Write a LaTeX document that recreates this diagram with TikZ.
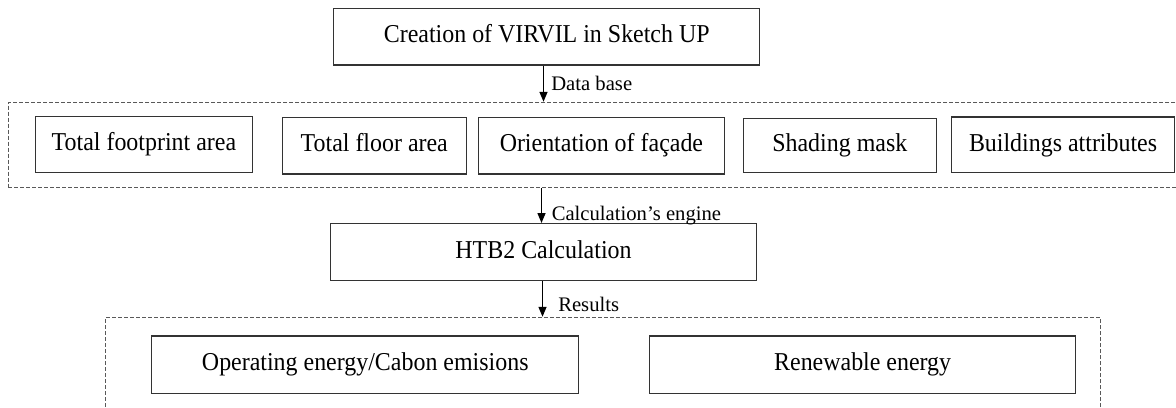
\documentclass[tikz,border=0pt]{standalone}
\usepackage{fontspec}
\setmainfont{Liberation Serif}
\newfontfamily\boxfont[FakeStretch=0.93]{Liberation Serif}
\usetikzlibrary{arrows.meta}
\tikzset{
  box/.style 2 args={draw=black!80, line width=0.8pt, inner sep=0pt,
    minimum width=#1*0.75pt, minimum height=#2*0.75pt,
    text height=13.5pt, text depth=4pt,
    font=\boxfont\fontsize{19.3}{22}\selectfont},
  dbox/.style 2 args={draw=black!65, line width=0.7pt, dash pattern=on 3pt off 1.5pt,
    inner sep=0pt, minimum width=#1*0.75pt, minimum height=#2*0.75pt},
  lbl/.style={inner sep=0pt, font=\fontsize{15.5}{18}\selectfont},
  arr/.style={line width=1.1pt, -{Triangle[length=7.5pt,width=6pt]}, shorten >=0.2pt}
}
\begin{document}
\begin{tikzpicture}[x=0.75pt, y=-0.75pt]
\useasboundingbox (0,0) rectangle (1176,407);
\clip (0,0) rectangle (1176,407);
\fill[white] (0,0) rectangle (1176,407);
% containers
\node[dbox={1192}{85}] (db) at (604,145) {};
\node[dbox={995}{132.5}] (rb) at (602.7,383.75) {};
% top
\node[box={426}{56.7}] (top) at (546.75,36.65) {Creation of VIRVIL in Sketch UP};
% data row
\node[box={217.4}{55.6}] (fp) at (143.9,144.5) {Total footprint area};
\node[box={183.7}{56.7}] (fl) at (374.25,145.65) {Total floor area};
\node[box={246}{56.7}] (or) at (601.4,145.65) {Orientation of façade};
\node[box={192.8}{54}] (sh) at (839.8,145.3) {Shading mask};
\node[box={223.3}{55.5}] (ba) at (1063.05,144.75) {Buildings attributes};
% calc
\node[box={426.4}{56.7}] (htb) at (543.5,252.15) {HTB2 Calculation};
% results
\node[box={426.7}{57.3}] (op) at (365.25,364.65) {Operating energy/Cabon emisions};
\node[box={426.1}{57.3}] (re) at (862.65,364.65) {Renewable energy};
% arrows
\draw[arr] ([xshift=-2.44pt]top.south) -- ([xshift=-2.44pt]top.south |- db.north);
\draw[arr] ([xshift=-1.5pt]htb.north |- db.south) -- ([xshift=-1.5pt]htb.north);
\draw[arr] ([xshift=-0.75pt]htb.south) -- ([xshift=-0.75pt]htb.south |- rb.north);
% labels
\node[lbl, anchor=base west] (l1) at (551,90) {Data base};
\node[lbl, anchor=base west] (l2) at (551.5,220) {Calculation’s engine};
\node[lbl, anchor=base west] (l3) at (558,311.7) {Results};
\end{tikzpicture}
\end{document}
